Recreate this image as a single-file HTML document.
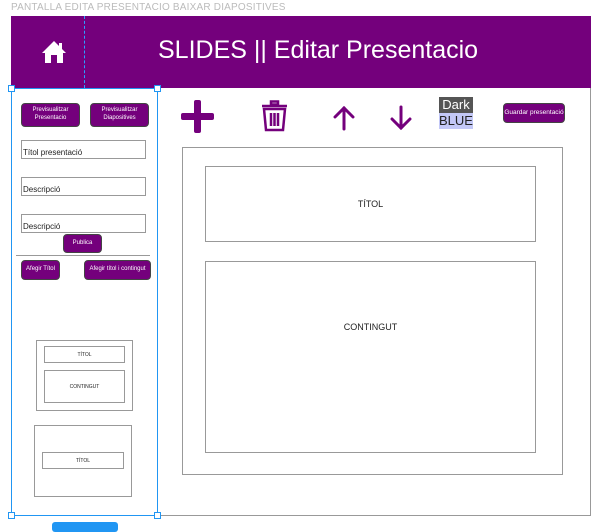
<!DOCTYPE html>
<html><head><meta charset="utf-8"><style>
body{margin:0;width:604px;height:529px;background:#fff;position:relative;overflow:hidden;font-family:"Liberation Sans",sans-serif}
.a{position:absolute;box-sizing:border-box}
.btn{background:#74007c;color:#fff;border:1px solid #444;border-radius:4px;font-size:6px;display:flex;align-items:center;justify-content:center;text-align:center;line-height:1.3}
.inp{border:1px solid #999;font-size:8px;color:#222;display:flex;align-items:flex-end;padding-left:1px;padding-bottom:1px}
.box{border:1px solid #999;display:flex;align-items:center;justify-content:center;color:#222}
.h{width:7px;height:7px;background:#fff;border:1px solid #2196f3}
</style></head><body>
<div class="a" style="left:11px;top:2px;font-size:10px;color:#bbb;letter-spacing:0.2px">PANTALLA EDITA PRESENTACIO BAIXAR DIAPOSITIVES</div>
<div class="a" style="left:11px;top:16px;width:580px;height:500px;border:1px solid #999"></div>
<div class="a" style="left:11px;top:16px;width:580px;height:72px;background:#74007c"></div>
<div class="a" style="left:84px;top:16px;height:72px;border-left:1px dashed #2aa0ff"></div>
<svg class="a" style="left:41px;top:40px" width="26" height="24" viewBox="0 0 26 24"><path d="M13 1 L1 13 L4 13 L4 23 L10 23 L10 15 L16 15 L16 23 L22 23 L22 13 L25 13 Z" fill="#fff"/><rect x="18" y="3" width="3" height="6" fill="#fff"/></svg>
<div class="a" style="left:158px;top:36px;font-size:25px;color:#fff;white-space:nowrap">SLIDES || Editar Presentacio</div>
<div class="a" style="left:11px;top:88px;width:147px;height:428px;border:1.5px solid #2196f3"></div>
<div class="a h" style="left:8px;top:85px"></div><div class="a h" style="left:154px;top:85px"></div>
<div class="a h" style="left:8px;top:512px"></div><div class="a h" style="left:154px;top:512px"></div>
<div class="a" style="left:52px;top:522px;width:66px;height:10px;background:#2196f3;border-radius:3px"></div>
<div class="a btn" style="left:21px;top:103px;width:59px;height:24px">Previsualitzar<br>Presentacio</div>
<div class="a btn" style="left:90px;top:103px;width:59px;height:24px">Previsualitzar<br>Diapositives</div>
<div class="a inp" style="left:21px;top:140px;width:125px;height:19px">Títol presentació</div>
<div class="a inp" style="left:21px;top:177px;width:125px;height:19px">Descripció</div>
<div class="a inp" style="left:21px;top:214px;width:125px;height:19px">Descripció</div>
<div class="a btn" style="left:63px;top:234px;width:39px;height:19px">Publica</div>
<div class="a" style="left:16px;top:255px;width:134px;border-top:1px solid #999"></div>
<div class="a btn" style="left:21px;top:260px;width:39px;height:20px">Afegir Títol</div>
<div class="a btn" style="left:84px;top:260px;width:67px;height:20px">Afegir títol i contingut</div>
<div class="a" style="left:36px;top:340px;width:97px;height:71px;border:1px solid #999"></div>
<div class="a box" style="left:44px;top:346px;width:81px;height:17px;font-size:5px">TÍTOL</div>
<div class="a box" style="left:44px;top:370px;width:81px;height:33px;font-size:5px">CONTINGUT</div>
<div class="a" style="left:34px;top:425px;width:98px;height:72px;border:1px solid #999"></div>
<div class="a box" style="left:42px;top:452px;width:82px;height:17px;font-size:5px">TÍTOL</div>
<svg class="a" style="left:181px;top:100px" width="33" height="33"><rect x="13" y="0" width="7" height="33" rx="2" fill="#74007c"/><rect x="0" y="13" width="33" height="7" rx="2" fill="#74007c"/></svg>
<svg class="a" style="left:261px;top:100px" width="27" height="32" viewBox="0 0 27 32" fill="none" stroke="#74007c" stroke-width="2.5"><rect x="10" y="1.5" width="7" height="3"/><line x1="1" y1="6" x2="26" y2="6"/><path d="M3 9 L5 30 L22 30 L24 9 Z"/><line x1="10" y1="13" x2="10" y2="26"/><line x1="13.5" y1="13" x2="13.5" y2="26"/><line x1="17" y1="13" x2="17" y2="26"/></svg>
<svg class="a" style="left:333px;top:105px" width="22" height="26" fill="none" stroke="#74007c" stroke-width="3" stroke-linecap="round"><line x1="11" y1="3" x2="11" y2="24"/><path d="M2 12 L11 3 L20 12"/></svg>
<svg class="a" style="left:390px;top:105px" width="22" height="26" fill="none" stroke="#74007c" stroke-width="3" stroke-linecap="round"><line x1="11" y1="2" x2="11" y2="23"/><path d="M2 14 L11 23 L20 14"/></svg>
<div class="a" style="left:439px;top:97px;width:34px;height:16px;background:#555;color:#fff;font-size:13px;text-align:center;line-height:16px">Dark</div>
<div class="a" style="left:439px;top:113px;width:34px;height:16px;background:#c3c8f7;color:#222;font-size:13px;text-align:center;line-height:16px">BLUE</div>
<div class="a btn" style="left:503px;top:103px;width:62px;height:20px;font-size:6.5px">Guardar presentació</div>
<div class="a" style="left:182px;top:147px;width:381px;height:328px;border:1px solid #999"></div>
<div class="a box" style="left:205px;top:166px;width:331px;height:76px;font-size:9px">TÍTOL</div>
<div class="a box" style="left:205px;top:261px;width:331px;height:192px;font-size:9px;align-items:flex-start;padding-top:60px">CONTINGUT</div>
</body></html>
